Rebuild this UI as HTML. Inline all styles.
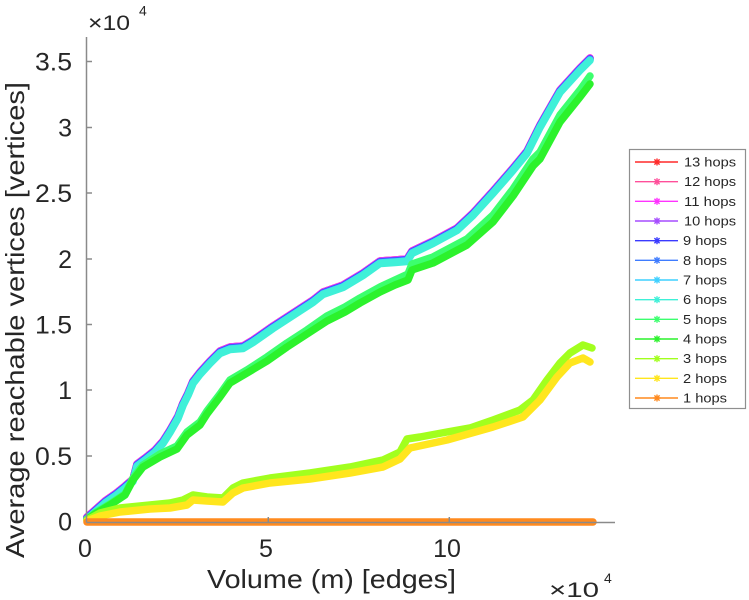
<!DOCTYPE html>
<html>
<head>
<meta charset="utf-8">
<style>
html,body{margin:0;padding:0;background:#fff;}
svg{display:block;}
text{font-family:"Liberation Sans",Arial,sans-serif;fill:#262626;}
</style>
</head>
<body>
<svg width="749" height="600" viewBox="0 0 749 600" xmlns="http://www.w3.org/2000/svg">
<defs>
  <g id="star">
    <line x1="-3.5" y1="0" x2="3.5" y2="0"/>
    <line x1="0" y1="-3.5" x2="0" y2="3.5"/>
    <line x1="-2.6" y1="-2.6" x2="2.6" y2="2.6"/>
    <line x1="-2.6" y1="2.6" x2="2.6" y2="-2.6"/>
  </g>
  <polyline id="up" points="87,519 95,512 105,503 115,496 125,488 133,481 137,466 145,460 155,452 163,443 170,432 178,418 183,405 188,395 193,383 200,374 210,363 220,353 230,349 243,348 253,342 273,328 293,315 313,302 323,294 343,287 363,275 380,263 395,262 407,261 412,253 433,243 457,230 473,215 493,193 513,170 527,153 540,127 560,92 580,70 590,60"/>
</defs>

<!-- series (plotted 13 -> 1) -->
<g fill="none" stroke-width="7.5" stroke-linejoin="round" stroke-linecap="round">
  <!-- upper band 13..6 -->
  <use href="#up" stroke="#ff2a2a" transform="translate(0,-2)"/>
  <use href="#up" stroke="#ff4f9a" transform="translate(0,-2)"/>
  <use href="#up" stroke="#ff33ff" transform="translate(0,-2)"/>
  <use href="#up" stroke="#a64dff" transform="translate(0,-1.5)"/>
  <use href="#up" stroke="#3a3aff" transform="translate(0,-1)"/>
  <use href="#up" stroke="#3f7cff" transform="translate(0,-0.5)"/>
  <use href="#up" stroke="#3fd0ff" transform="translate(0,0)"/>
  <use href="#up" stroke="#3ff0d8" transform="translate(0,0.5)"/>

  <!-- 5 hops -->
  <polyline stroke="#3cff6e" points="87,519 95,513 110,504 125,494 133,478 143,465 160,454 177,446 187,432 200,422 207,411 220,394 230,380 247,370 267,357 287,343 307,330 327,316 345,307 360,298 380,287 395,280 408,274 412,264 433,257 467,239 493,215 513,189 533,159 540,152 560,115 580,90 590,76"/>
  <!-- 4 hops -->
  <polyline stroke="#2cf22c" points="87,520 95,514 110,505 125,495 133,480 143,467 160,457 177,449 187,435 200,425 207,414 220,397 230,383 247,373 267,361 287,347 307,334 327,321 345,312 360,303 380,292 395,285 408,280 412,270 433,263 467,245 493,222 513,196 533,166 540,159 560,122 580,97 590,84"/>
  <!-- 3 hops -->
  <polyline stroke="#a2ff1e" points="87,520 100,513 120,508 150,505 170,503 183,500 193,495 207,497 223,498 233,488 243,483 270,478 310,473 350,467 383,460 400,452 407,439 420,437 447,432 470,428 493,420 520,410 533,400 547,380 560,363 570,353 583,345 592,348"/>
  <!-- 2 hops -->
  <polyline stroke="#ffe61e" points="87,521 100,516 120,512 150,509 170,508 187,505 193,500 207,501 223,502 233,493 243,488 270,483 310,479 350,473 383,467 400,459 410,448 447,440 493,427 523,417 540,400 557,377 570,363 583,358 590,362"/>
  <!-- 1 hops -->
  <polyline stroke="#ff8a1e" points="87,522 593,522"/>
</g>

<!-- axes -->
<g stroke="#8a8a8a" stroke-width="1.5" fill="none">
  <line x1="86.5" y1="37" x2="86.5" y2="522.5"/>
  <line x1="86.5" y1="522.5" x2="615" y2="522.5"/>
  <line x1="86.5" y1="61.5" x2="92" y2="61.5"/>
  <line x1="86.5" y1="127.5" x2="92" y2="127.5"/>
  <line x1="86.5" y1="193" x2="92" y2="193"/>
  <line x1="86.5" y1="259" x2="92" y2="259"/>
  <line x1="86.5" y1="324.5" x2="92" y2="324.5"/>
  <line x1="86.5" y1="390" x2="92" y2="390"/>
  <line x1="86.5" y1="456" x2="92" y2="456"/>
  <line x1="268.3" y1="522.5" x2="268.3" y2="517"/>
  <line x1="449.3" y1="522.5" x2="449.3" y2="517"/>
</g>

<!-- y tick labels -->
<g font-size="25" text-anchor="end">
  <text x="72" y="70.5" textLength="37" lengthAdjust="spacingAndGlyphs">3.5</text>
  <text x="72" y="136.5">3</text>
  <text x="72" y="202" textLength="37" lengthAdjust="spacingAndGlyphs">2.5</text>
  <text x="72" y="268">2</text>
  <text x="72" y="333.5" textLength="37" lengthAdjust="spacingAndGlyphs">1.5</text>
  <text x="72" y="399">1</text>
  <text x="72" y="465" textLength="37" lengthAdjust="spacingAndGlyphs">0.5</text>
  <text x="72" y="530.5">0</text>
</g>
<!-- x tick labels -->
<g font-size="25" text-anchor="middle">
  <text x="85" y="557">0</text>
  <text x="266" y="557">5</text>
  <text x="447" y="557">10</text>
</g>

<!-- exponents -->
<text x="88" y="30" font-size="21" textLength="42" lengthAdjust="spacingAndGlyphs">×10</text>
<text x="139" y="15.5" font-size="14">4</text>
<text x="549" y="597" font-size="21" textLength="50" lengthAdjust="spacingAndGlyphs">×10</text>
<text x="604" y="583" font-size="14">4</text>

<!-- axis labels -->
<text x="207" y="588" font-size="26" textLength="249" lengthAdjust="spacingAndGlyphs">Volume (m) [edges]</text>
<text transform="translate(24,558) rotate(-90)" x="0" y="0" font-size="26" textLength="476" lengthAdjust="spacingAndGlyphs">Average reachable vertices [vertices]</text>

<!-- legend -->
<rect x="629.5" y="149.5" width="116" height="259" fill="#fff" stroke="#8f8f8f" stroke-width="1.2"/>
<g font-size="13">
  <g stroke="#ff2a2a" stroke-width="1.4"><line x1="635" y1="162" x2="678" y2="162"/><use href="#star" x="657" y="162"/></g>
  <text x="684" y="166.5" textLength="52" lengthAdjust="spacingAndGlyphs">13 hops</text>
  <g stroke="#ff4f9a" stroke-width="1.4"><line x1="635" y1="181.7" x2="678" y2="181.7"/><use href="#star" x="657" y="181.7"/></g>
  <text x="684" y="186.2" textLength="52" lengthAdjust="spacingAndGlyphs">12 hops</text>
  <g stroke="#ff33ff" stroke-width="1.4"><line x1="635" y1="201.3" x2="678" y2="201.3"/><use href="#star" x="657" y="201.3"/></g>
  <text x="684" y="205.8" textLength="52" lengthAdjust="spacingAndGlyphs">11 hops</text>
  <g stroke="#a64dff" stroke-width="1.4"><line x1="635" y1="221" x2="678" y2="221"/><use href="#star" x="657" y="221"/></g>
  <text x="684" y="225.5" textLength="52" lengthAdjust="spacingAndGlyphs">10 hops</text>
  <g stroke="#3a3aff" stroke-width="1.4"><line x1="635" y1="240.7" x2="678" y2="240.7"/><use href="#star" x="657" y="240.7"/></g>
  <text x="683" y="245.2" textLength="44" lengthAdjust="spacingAndGlyphs">9 hops</text>
  <g stroke="#3f7cff" stroke-width="1.4"><line x1="635" y1="260.3" x2="678" y2="260.3"/><use href="#star" x="657" y="260.3"/></g>
  <text x="683" y="264.8" textLength="44" lengthAdjust="spacingAndGlyphs">8 hops</text>
  <g stroke="#3fd0ff" stroke-width="1.4"><line x1="635" y1="280" x2="678" y2="280"/><use href="#star" x="657" y="280"/></g>
  <text x="683" y="284.5" textLength="44" lengthAdjust="spacingAndGlyphs">7 hops</text>
  <g stroke="#3ff0d8" stroke-width="1.4"><line x1="635" y1="299.7" x2="678" y2="299.7"/><use href="#star" x="657" y="299.7"/></g>
  <text x="683" y="304.2" textLength="44" lengthAdjust="spacingAndGlyphs">6 hops</text>
  <g stroke="#3cff6e" stroke-width="1.4"><line x1="635" y1="319.3" x2="678" y2="319.3"/><use href="#star" x="657" y="319.3"/></g>
  <text x="683" y="323.8" textLength="44" lengthAdjust="spacingAndGlyphs">5 hops</text>
  <g stroke="#2cf22c" stroke-width="1.4"><line x1="635" y1="339" x2="678" y2="339"/><use href="#star" x="657" y="339"/></g>
  <text x="683" y="343.5" textLength="44" lengthAdjust="spacingAndGlyphs">4 hops</text>
  <g stroke="#a2ff1e" stroke-width="1.4"><line x1="635" y1="358.7" x2="678" y2="358.7"/><use href="#star" x="657" y="358.7"/></g>
  <text x="683" y="363.2" textLength="44" lengthAdjust="spacingAndGlyphs">3 hops</text>
  <g stroke="#ffe61e" stroke-width="1.4"><line x1="635" y1="378.3" x2="678" y2="378.3"/><use href="#star" x="657" y="378.3"/></g>
  <text x="683" y="382.8" textLength="44" lengthAdjust="spacingAndGlyphs">2 hops</text>
  <g stroke="#ff8a1e" stroke-width="1.4"><line x1="635" y1="398" x2="678" y2="398"/><use href="#star" x="657" y="398"/></g>
  <text x="683" y="402.5" textLength="44" lengthAdjust="spacingAndGlyphs">1 hops</text>
</g>
</svg>
</body>
</html>
